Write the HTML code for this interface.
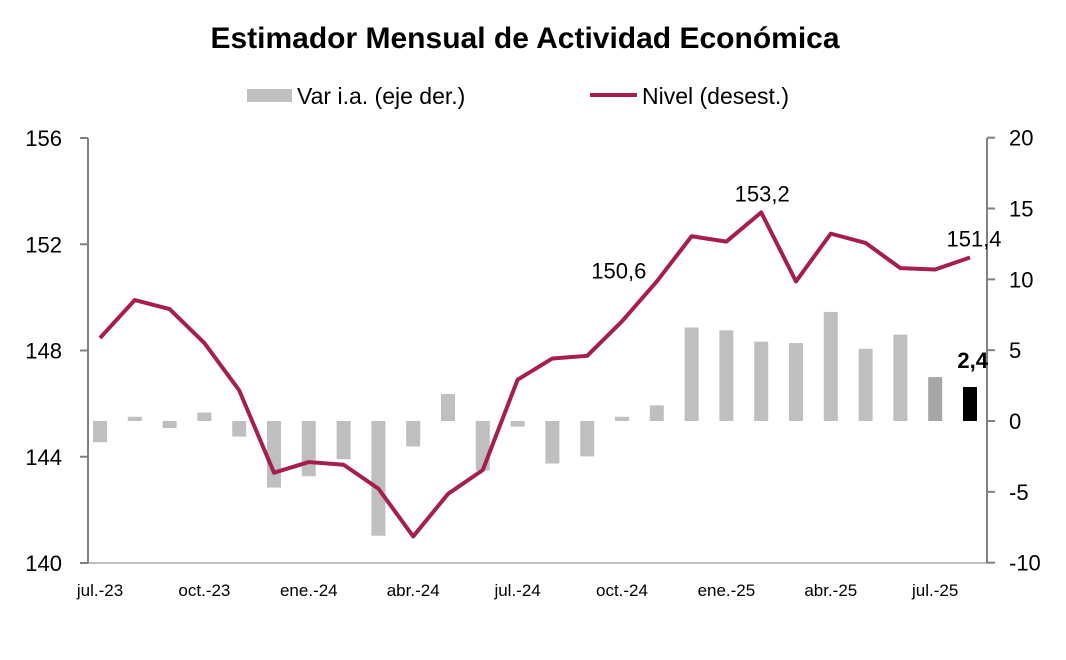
<!DOCTYPE html>
<html><head><meta charset="utf-8"><style>
body{margin:0;background:#fff;}
svg text{font-family:"Liberation Sans",sans-serif;}
</style></head><body>
<svg id="c" width="1066" height="655" xmlns="http://www.w3.org/2000/svg">
<text x="525" y="48" text-anchor="middle" font-size="30" font-weight="bold" fill="#000">Estimador Mensual de Actividad Económica</text>
<g>
<rect x="247" y="89" width="45" height="13" fill="#bfbfbf"/>
<text x="297" y="104" font-size="23" fill="#000">Var i.a. (eje der.)</text>
<line x1="590" y1="95" x2="637" y2="95" stroke="#a51f4a" stroke-width="4"/>
<text x="642" y="104" font-size="23" fill="#000">Nivel (desest.)</text>
</g>
<g id="axes"></g>
<g id="bars"></g>
<g id="line"></g>
</svg>
<script>
const months=["jul.-23","ago.-23","sep.-23","oct.-23","nov.-23","dic.-23","ene.-24","feb.-24","mar.-24","abr.-24","may.-24","jun.-24","jul.-24","ago.-24","sep.-24","oct.-24","nov.-24","dic.-24","ene.-25","feb.-25","mar.-25","abr.-25","may.-25","jun.-25","jul.-25","ago.-25"];
const nivel=[148.47,149.9,149.56,148.28,146.5,143.4,143.8,143.7,142.8,141.0,142.6,143.5,146.9,147.7,147.8,149.1,150.6,152.3,152.1,153.2,150.6,152.4,152.05,151.1,151.05,151.5];
const varia=[-1.5,0.3,-0.5,0.6,-1.1,-4.7,-3.9,-2.7,-8.1,-1.8,1.9,-3.5,-0.4,-3.0,-2.5,0.3,1.1,6.6,6.4,5.6,5.5,7.7,5.1,6.1,3.1,2.4];
const leftTicks=[140,144,148,152,156];
const rightTicks=[-10,-5,0,5,10,15,20];
const xLabelIdx=[0,3,6,9,12,15,18,21,24];
const valueLabels=[{i:16,t:"150,6"},{i:19,t:"153,2"},{i:25,t:"151,4"}];
const NS="http://www.w3.org/2000/svg";
const x=i=>100+i*34.8;
const yL=v=>563-(v-140)*(425/16);
const yR=v=>421-v*(425/30);
function mk(t,a,p){const e=document.createElementNS(NS,t);for(const k in a)e.setAttribute(k,a[k]);p.appendChild(e);return e;}
const ax=document.getElementById('axes');
let e=mk('line',{x1:88,y1:138,x2:88,y2:563,stroke:'#808080','stroke-width':2},ax);


e=mk('line',{x1:987,y1:138,x2:987,y2:563,stroke:'#808080','stroke-width':2},ax);


e=mk('line',{x1:88,y1:563,x2:987,y2:563,stroke:'#808080','stroke-width':1},ax);


leftTicks.forEach(v=>{
 mk('line',{x1:80,y1:yL(v),x2:88,y2:yL(v),stroke:'#808080','stroke-width':2},ax);
 const t=mk('text',{x:62,y:yL(v)+8,'text-anchor':'end','font-size':22,fill:'#000'},ax);t.textContent=v;
 
 
});
rightTicks.forEach(v=>{
 mk('line',{x1:987,y1:yR(v),x2:995,y2:yR(v),stroke:'#808080','stroke-width':2},ax);
 const t=mk('text',{x:1009,y:yR(v)+8,'font-size':22,fill:'#000'},ax);t.textContent=v;
 
 
});
xLabelIdx.forEach(i=>{
 const t=mk('text',{x:x(i),y:596,'text-anchor':'middle','font-size':17,fill:'#000'},ax);t.textContent=months[i];
 
 
});
const bg=document.getElementById('bars');
varia.forEach((v,i)=>{
 const n=varia.length;
 const col=i===n-1?'#000':(i===n-2?'#a6a6a6':'#bfbfbf');
 const r=mk('rect',{x:x(i)-7,y:Math.min(yR(v),yR(0)),width:14,height:Math.abs(yR(v)-yR(0)),fill:col},bg);
 
 
});
const last=varia.length-1;
const bl=mk('text',{x:x(last)+18,y:yR(varia[last])-19,'text-anchor':'end','font-size':22,'font-weight':'bold',fill:'#000'},bg);
bl.textContent=varia[last].toFixed(1).replace('.',',');


const lg=document.getElementById('line');
const p=mk('polyline',{points:nivel.map((v,i)=>x(i)+','+yL(v)).join(' '),fill:'none',stroke:'#a51f4a','stroke-width':4,'stroke-linejoin':'round'},lg);


valueLabels.forEach(o=>{
 const t=mk('text',{x:x(o.i)-38,y:yL(nivel[o.i])-3,'text-anchor':'middle','font-size':22,fill:'#000'},lg);
 if(o.i===19)t.setAttribute('y',yL(nivel[o.i])-11),t.setAttribute('x',x(o.i)+1);
 if(o.i===25)t.setAttribute('x',x(o.i)+4),t.setAttribute('y',yL(nivel[o.i])-11);
 t.textContent=o.t;
 
 
});
</script>
</body></html>
